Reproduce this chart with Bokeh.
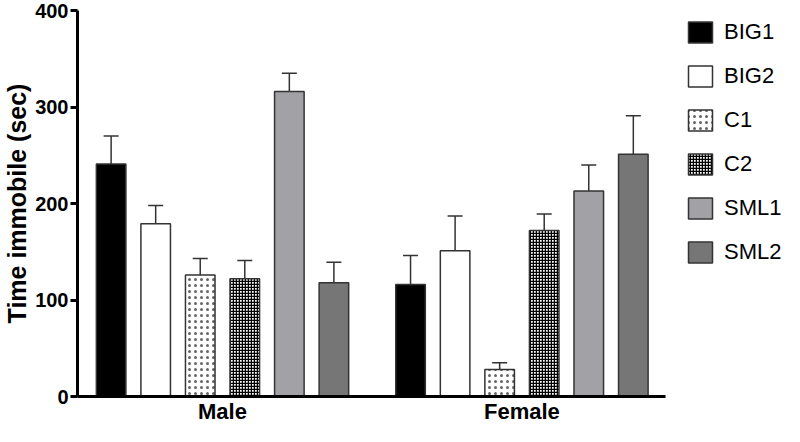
from bokeh.plotting import figure
from bokeh.models import (Range1d, FixedTicker, ColumnDataSource, Whisker, TeeHead,
                          Legend, LegendItem)
from bokeh.embed import file_html
from bokeh.resources import INLINE

# ---- data ----
groups = ["Male", "Female"]
series = ["BIG1", "BIG2", "C1", "C2", "SML1", "SML2"]
male_means = [241, 179, 126, 122, 316, 118]
male_sem = [29, 19, 17, 19, 19, 21]
female_means = [116, 151, 28, 172, 213, 251]
female_sem = [30, 36, 7, 17, 27, 40]
y_ticks = [0, 100, 200, 300, 400]

# ---- styles ----
fills = ["#000000", "#ffffff", "#ffffff", "#ffffff", "#a2a2a6", "#767676"]
hatches = [None, None, "dot", "cross", None, None]
edge = "#333333"
FONT = "Liberation Sans"

W, H = 784, 426
slot = 0.1488
bar_w = 0.0987
L = 72
x_start = -0.4843
x_end = 1.8769
axis_end = 1.48

p = figure(width=W, height=H, output_backend="svg", toolbar_location=None,
           x_range=Range1d(x_start, x_end), y_range=Range1d(0, 400),
           min_border_left=L, min_border_right=0, min_border_top=10,
           min_border_bottom=24)
p.outline_line_color = None
p.grid.visible = False
p.background_fill_color = "white"

items = []
for i, name in enumerate(series):
    off = (i - 2.5) * slot
    xs = [g + off for g in range(len(groups))]
    tops = [male_means[i], female_means[i]]
    ups = [male_means[i] + male_sem[i], female_means[i] + female_sem[i]]
    src = ColumnDataSource(dict(x=xs, top=tops, upper=ups))
    kw = {}
    if hatches[i] == "dot":
        kw = dict(hatch_pattern="dot", hatch_scale=6, hatch_weight=0.5, hatch_color="#666666")
    elif hatches[i] == "cross":
        kw = dict(hatch_pattern="cross", hatch_scale=3, hatch_weight=1.5, hatch_color="#000000")
    r = p.vbar(x="x", top="top", bottom=0, width=bar_w, source=src,
               fill_color=fills[i], line_color=edge, line_width=1.5, **kw)
    w = Whisker(source=src, base="x", lower="top", upper="upper", line_color=edge,
                line_width=1.5, upper_head=TeeHead(size=15, line_width=1.5, line_color=edge),
                lower_head=None)
    p.add_layout(w)
    items.append(LegendItem(label=name, renderers=[r]))

# axes
p.yaxis.ticker = FixedTicker(ticks=y_ticks)
p.yaxis.axis_line_width = 3
p.yaxis.major_tick_line_width = 3
p.yaxis.major_tick_out = 7
p.yaxis.major_tick_in = 0
p.yaxis.minor_tick_line_color = None
p.yaxis.major_label_standoff = 2
p.yaxis.major_label_text_font = FONT
p.yaxis.major_label_text_font_style = "bold"
p.yaxis.major_label_text_font_size = "20px"
p.yaxis.major_label_text_color = "black"
p.yaxis.axis_label = "Time immobile (sec)"
p.yaxis.axis_label_text_font = FONT
p.yaxis.axis_label_text_font_style = "bold"
p.yaxis.axis_label_text_font_size = "25px"
p.yaxis.axis_label_text_color = "black"
p.yaxis.axis_label_standoff = 1

p.xaxis.ticker = FixedTicker(ticks=list(range(len(groups))))
p.xaxis.major_label_overrides = {i: g for i, g in enumerate(groups)}
p.xaxis.bounds = (x_start, axis_end)
p.xaxis.axis_line_width = 3
p.xaxis.major_tick_line_color = None
p.xaxis.major_tick_out = 0
p.xaxis.major_tick_in = 0
p.xaxis.minor_tick_line_color = None
p.xaxis.major_label_standoff = 2
p.xaxis.major_label_text_font = FONT
p.xaxis.major_label_text_font_style = "bold"
p.xaxis.major_label_text_font_size = "22px"
p.xaxis.major_label_text_color = "black"

legend = Legend(items=items, location=(608, 131), padding=0, margin=0,
                glyph_width=30, glyph_height=26, label_height=26, spacing=18,
                label_standoff=9, label_width=40,
                label_text_font=FONT, label_text_font_size="22px",
                label_text_color="black",
                border_line_color=None, background_fill_alpha=0)
p.add_layout(legend)

open("out.html", "w").write(file_html(p, INLINE))
